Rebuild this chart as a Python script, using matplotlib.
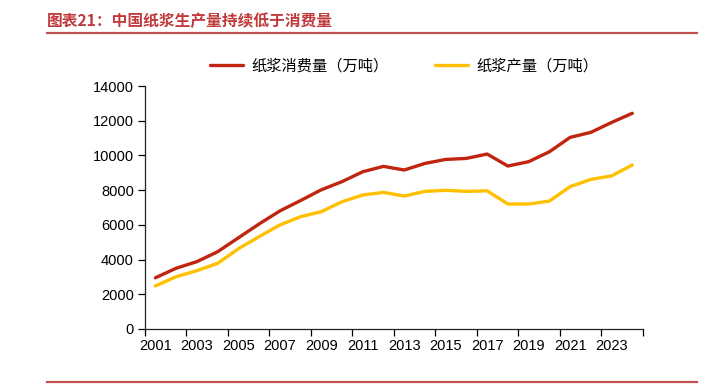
import matplotlib.pyplot as plt
from matplotlib.lines import Line2D

plt.rcParams['font.family'] = ['Liberation Sans', 'Noto Sans CJK SC', 'DejaVu Sans']

# Data
years = list(range(2001, 2025))
consumption = [2950, 3500, 3880, 4450, 5250, 6050, 6800, 7400, 8020, 8490, 9060, 9370,
               9160, 9540, 9770, 9830, 10080, 9390, 9640, 10210, 11040, 11330, 11900, 12430]
production = [2480, 3010, 3360, 3780, 4620, 5320, 5990, 6470, 6760, 7330, 7720, 7870,
              7660, 7930, 7990, 7930, 7960, 7200, 7200, 7370, 8200, 8620, 8820, 9450]
tick_labels = [str(y) for y in years[::2]]

title = "图表21：中国纸浆生产量持续低于消费量"
label_cons = "纸浆消费量（万吨）"
label_prod = "纸浆产量（万吨）"

red = '#C0260F'
yellow = '#FFC000'
title_red = '#C0393B'

fig = plt.figure(figsize=(7.14, 3.91), dpi=100)
ax = fig.add_axes([0.2031, 0.1586, 0.6970, 0.6214])

x = list(range(len(years)))
ax.plot(x, consumption, color=red, linewidth=2.4, label=label_cons, solid_capstyle='round')
ax.plot(x, production, color=yellow, linewidth=2.4, label=label_prod, solid_capstyle='round')

# category axis: labels centred on every other year, ticks on the boundaries
ax.set_xlim(-0.5, len(years) - 0.5)
ax.set_xticks(x[::2])
ax.set_xticklabels(tick_labels, fontsize=10.5)
ax.set_xticks([i - 0.5 for i in range(0, len(years) + 1, 2)], minor=True)
ax.tick_params(axis='x', which='major', length=0, pad=7)
ax.tick_params(axis='x', which='minor', length=5, width=0.9, direction='out')

ax.set_ylim(0, 14000)
ax.set_yticks(range(0, 14001, 2000))
ax.tick_params(axis='y', labelsize=10.5, length=5, width=0.9, pad=3)

for s in ['top', 'right']:
    ax.spines[s].set_visible(False)
for s in ['left', 'bottom']:
    ax.spines[s].set_linewidth(0.9)
    ax.spines[s].set_color('#222222')

ax.legend(loc='center', bbox_to_anchor=(0.566, 0.831), bbox_transform=fig.transFigure,
          ncol=2, frameon=False, handlelength=2.2, handletextpad=0.55, columnspacing=3.0,
          prop={'family': ['Noto Sans CJK SC'], 'size': 11})

# report-style header and footer
fig.text(0.066, 0.947, title, color=title_red, fontsize=11.3, fontweight='bold',
         family=['Noto Sans CJK SC'], va='center', ha='left')
fig.add_artist(Line2D([0.066, 0.976], [0.916, 0.916], color='#C0504D', linewidth=1.6))
fig.add_artist(Line2D([0.066, 0.976], [0.023, 0.023], color='#C0504D', linewidth=1.6))

fig.savefig('out.png', dpi=100)
